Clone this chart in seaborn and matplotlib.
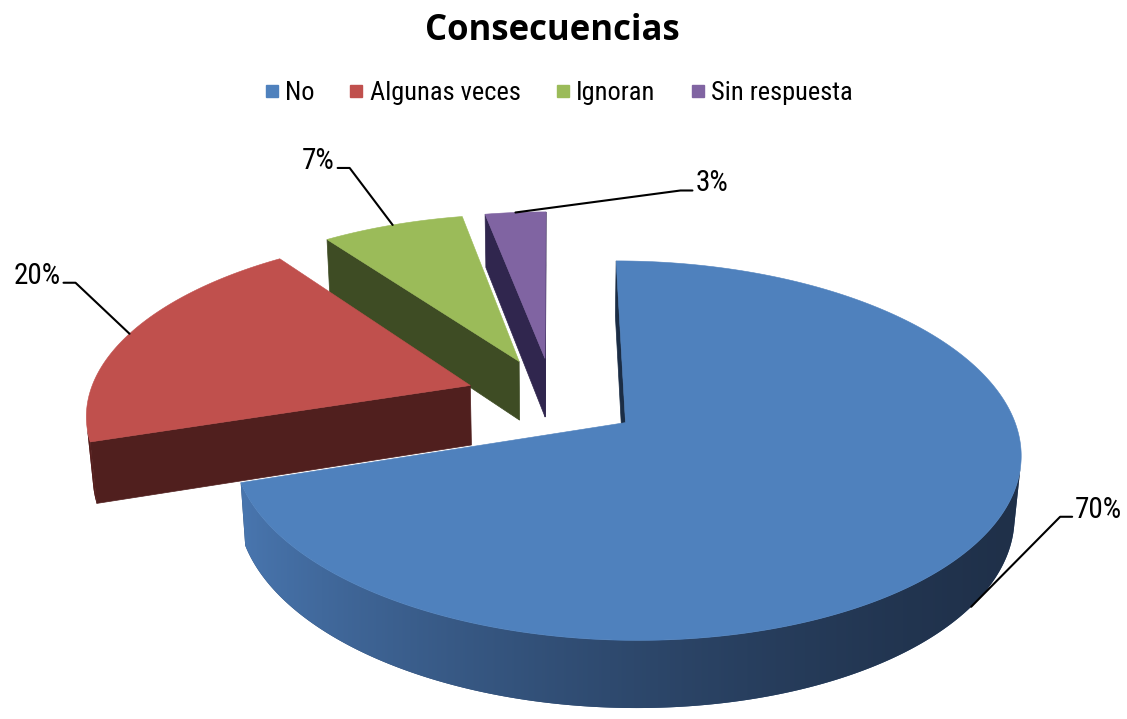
import numpy as np
import matplotlib
matplotlib.use("Agg")
import matplotlib.pyplot as plt
import seaborn as sns
from matplotlib.patches import Polygon
from matplotlib.lines import Line2D
from matplotlib.font_manager import FontProperties
from matplotlib.colors import to_rgb

# ---- data -------------------------------------------------------------
categories = ["No", "Algunas veces", "Ignoran", "Sin respuesta"]
percentages = [70, 20, 7, 3]
value_labels = ["70%", "20%", "7%", "3%"]

# ---- styling ----------------------------------------------------------
top_colors = ["#4F81BD", "#C0504D", "#9BBB59", "#8064A2"]
wall_light = ["#4A78B2", "#561F1E", "#3E4D25", "#30264E"]
wall_dark = ["#1F3049", "#4A1C1B", "#3A4822", "#2A2146"]
cut_colors = ["#1B2D45", "#501F1E", "#3E4C24", "#30264E"]
# elbow of each leader line, relative to its anchor on the slice (px)
label_elbows = [(89, -90), (-54, -51), (-43, -57), (165, -22)]

W, H = 1127, 719
NARROW = ["Liberation Sans Narrow", "Roboto Condensed", "DejaVu Sans"]
sns.set_theme(style="white")
plt.rcParams["font.family"] = NARROW
legend_font = FontProperties(family=NARROW, stretch="condensed", size=19)
label_font = FontProperties(family=NARROW, stretch="condensed", size=21)

# ---- 3-D pie camera ---------------------------------------------------
CX, CY = 553.0, 398.0        # screen position of the pie centre
FOCAL = 2330.0
DIST = 6.1                   # camera distance in pie radii
SIN_E = 0.467                # sine of the viewing elevation
COS_E = np.sqrt(1 - SIN_E ** 2)
EXPLODE = 0.23
THICK = 0.18
CAM = np.array([0.0, DIST * SIN_E, -DIST * COS_E])   # (X, height, Z)


def depth_of(X, Z, Hh):
    return DIST + Z * COS_E - Hh * SIN_E


def proj(X, Z, Hh):
    d = depth_of(X, Z, Hh)
    return (CX + FOCAL * X / d, CY - FOCAL * (Z * SIN_E + Hh * COS_E) / d)


def faces_camera(normal, point):
    return np.dot(normal, CAM - np.asarray(point)) > 0


def shade(c_dark, c_light, t):
    a, b = np.array(to_rgb(c_dark)), np.array(to_rgb(c_light))
    return a + (b - a) * np.asarray(t)[..., None]


fig = plt.figure(figsize=(W / 100, H / 100), dpi=100)
ax = fig.add_axes([0, 0, 1, 1])
ax.set_xlim(0, W)
ax.set_ylim(H, 0)
ax.axis("off")

vals = np.asarray(percentages, dtype=float)
bounds = np.concatenate([[0.0], np.cumsum(vals / vals.sum() * 360.0)])

slices = []
for i in range(len(vals)):
    ts, te = np.radians(bounds[i]), np.radians(bounds[i + 1])
    mid = 0.5 * (ts + te)
    ox, oz = EXPLODE * np.sin(mid), EXPLODE * np.cos(mid)
    slices.append((depth_of(ox, oz, 0), i, ts, te, mid, ox, oz))

z = 1.0                      # painter's order: far pieces first
anchors = {}
for _, i, ts, te, mid, ox, oz in sorted(slices, reverse=True):
    arc = np.linspace(ts, te, max(int(4 * np.degrees(te - ts)), 16))

    # flat radial cuts that face the viewer
    for ang, normal in ((ts, (-np.cos(ts), 0, np.sin(ts))),
                        (te, (np.cos(te), 0, -np.sin(te)))):
        p = (ox + 0.5 * np.sin(ang), -THICK / 2, oz + 0.5 * np.cos(ang))
        if not faces_camera(normal, p):
            continue
        verts = [proj(ox, oz, 0),
                 proj(ox + np.sin(ang), oz + np.cos(ang), 0),
                 proj(ox + np.sin(ang), oz + np.cos(ang), -THICK),
                 proj(ox, oz, -THICK)]
        ax.add_patch(Polygon(verts, closed=True, facecolor=cut_colors[i],
                             edgecolor=cut_colors[i], lw=0.5, zorder=z))
        z += 0.01

    # curved outer wall: the visible stretch, filled with a shading gradient
    vis = np.array([faces_camera((np.sin(a), 0, np.cos(a)),
                                 (ox + np.sin(a), -THICK / 2, oz + np.cos(a)))
                    for a in arc])
    if vis.any():
        wa = arc[vis]
        top_edge = [proj(ox + np.sin(a), oz + np.cos(a), 0) for a in wa]
        bot_edge = [proj(ox + np.sin(a), oz + np.cos(a), -THICK) for a in wa]
        tw = ((1 - np.sin(wa)) / 2) ** 1.6
        wall = Polygon(top_edge + bot_edge[::-1], closed=True,
                       facecolor=tuple(shade(wall_dark[i], wall_light[i], tw.mean())),
                       edgecolor="none", lw=0, zorder=z)
        ax.add_patch(wall)
        z += 0.01
        us = np.array([u for u, _ in bot_edge])
        order = np.argsort(us)
        vs = [v for _, v in top_edge + bot_edge]
        cols = np.linspace(us.min() - 12, us.max() + 12, 600)
        tcol = np.interp(cols, us[order], tw[order])
        img = shade(wall_dark[i], wall_light[i], tcol)[None, :, :]
        im = ax.imshow(img, extent=(cols[0], cols[-1], max(vs) + 2, min(vs) - 2),
                       aspect="auto", interpolation="bilinear", origin="upper",
                       zorder=z)
        im.set_clip_path(wall)
        z += 0.01

    top = [proj(ox, oz, 0)] + [proj(ox + np.sin(a), oz + np.cos(a), 0) for a in arc]
    ax.add_patch(Polygon(top, closed=True, facecolor=top_colors[i],
                         edgecolor=top_colors[i], lw=0.4, zorder=z))
    z += 0.01

    # leader anchor: bottom of the wall when it faces the viewer, else top rim
    pm = (ox + np.sin(mid), -THICK / 2, oz + np.cos(mid))
    if faces_camera((np.sin(mid), 0, np.cos(mid)), pm):
        anchors[i] = proj(ox + np.sin(mid), oz + np.cos(mid), -THICK)
    else:
        anchors[i] = proj(ox + np.sin(mid), oz + np.cos(mid), 0)

ax.set_xlim(0, W)
ax.set_ylim(H, 0)

# ---- value labels with leader lines ----------------------------------
for i, txt in enumerate(value_labels):
    ax0, ay0 = anchors[i]
    dx, dy = label_elbows[i]
    ex, ey = ax0 + dx, ay0 + dy
    side = 1 if dx > 0 else -1
    sx = ex + side * 12
    ax.plot([ax0, ex, sx], [ay0, ey, ey], color="black", lw=1.5,
            solid_joinstyle="round", zorder=10)
    ax.text(sx + side * 3, ey + 1, txt, ha="left" if side > 0 else "right",
            va="baseline", fontproperties=label_font, color="black", zorder=11)

# ---- title and legend -------------------------------------------------
fig.text(0.49, 1 - 31 / H, "Consecuencias", ha="center", va="center",
         fontsize=25, fontweight="bold", color="black",
         family=["Open Sans", "DejaVu Sans"])

handles = [Line2D([], [], marker="s", linestyle="", markersize=8,
                  markerfacecolor=c, markeredgecolor=c) for c in top_colors]
leg = fig.legend(handles, categories, loc="center", bbox_to_anchor=(0.494, 1 - 93 / H),
                 ncol=4, frameon=False, prop=legend_font, handletextpad=0.1,
                 columnspacing=1.2, handlelength=0.8)
for t in leg.get_texts():
    t.set_color("black")

fig.savefig("out.png", dpi=100, facecolor="white")
